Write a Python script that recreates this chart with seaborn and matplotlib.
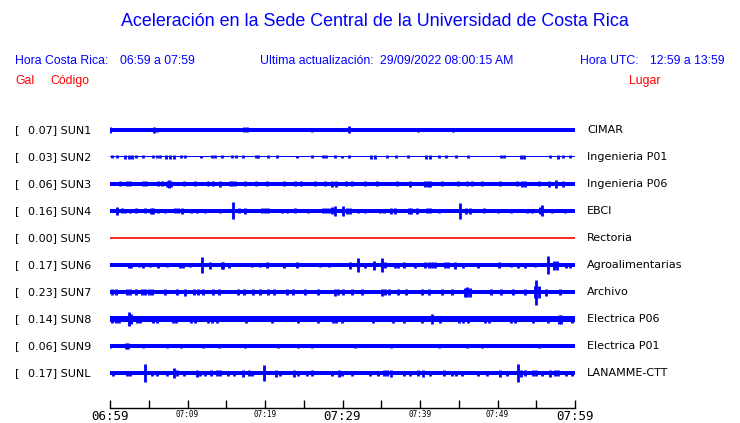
import matplotlib
matplotlib.use('Agg')
import matplotlib.pyplot as plt
import matplotlib.transforms as mtransforms
import numpy as np
import seaborn as sns

sns.set_style('white')

W, H = 740, 423

# station table
codes = ['SUN1', 'SUN2', 'SUN3', 'SUN4', 'SUN5', 'SUN6', 'SUN7', 'SUN8', 'SUN9', 'SUNL']
gal = [0.07, 0.03, 0.06, 0.16, 0.00, 0.17, 0.23, 0.14, 0.06, 0.17]
places = ['CIMAR', 'Ingenieria P01', 'Ingenieria P06', 'EBCI', 'Rectoria',
          'Agroalimentarias', 'Archivo', 'Electrica P06', 'Electrica P01',
          'LANAMME-CTT']
trace_colors = ['#0000ff'] * 4 + ['#ff0000'] + ['#0000ff'] * 5

# background noise half-amplitude of each trace (trace units)
noise = [1.6, 0.5, 1.8, 1.8, 0.0, 1.9, 2.1, 2.6, 1.6, 1.8]

# bursts: (minute after 06:59, half-amplitude)
bursts = {
    'SUN1': [(0.0, 2.7), (5.7, 2.7), (6.0, 2.2), (17.3, 2.5), (17.7, 2.5),
             (26.0, 2.3), (30.8, 3.5), (39.8, 2.0), (44.3, 2.0)],
    'SUN2': [(0.2, 1.5), (0.9, 1.5), (1.9, 2.0), (2.4, 2.0), (2.8, 2.0),
             (3.4, 1.5), (4.3, 1.5), (5.6, 1.5), (6.0, 1.5), (6.5, 1.5),
             (7.2, 1.7), (7.7, 1.7), (8.2, 1.7), (9.2, 1.5), (9.7, 1.5),
             (11.8, 1.3), (13.1, 1.5), (13.5, 1.5), (14.4, 1.5), (15.8, 1.5),
             (16.2, 1.5), (17.1, 1.5), (18.8, 1.5), (19.1, 1.5), (20.4, 1.5),
             (21.6, 1.5), (24.1, 1.3), (26.1, 1.5), (27.5, 1.5), (27.9, 1.5),
             (29.0, 1.5), (29.9, 1.3), (30.8, 1.5), (33.7, 1.7), (34.2, 1.7),
             (35.7, 1.5), (36.9, 1.5), (38.4, 1.5), (40.8, 1.9), (41.3, 1.9),
             (42.4, 1.5), (43.4, 1.5), (44.7, 1.5), (46.2, 1.5), (50.4, 1.5),
             (50.8, 1.5), (53.0, 1.9), (53.4, 1.9), (56.8, 1.5), (57.8, 1.7),
             (58.5, 1.5), (59.4, 1.5)],
    'SUN3': [(1.3, 2.5), (2.2, 2.5), (2.6, 2.5), (4.3, 2.5), (4.7, 2.5),
             (6.2, 2.5), (6.7, 2.5), (7.4, 3.2), (7.6, 3.7), (7.9, 3.2),
             (9.5, 2.5), (11.0, 2.5), (12.7, 2.5), (13.3, 2.5), (14.2, 2.8),
             (15.5, 2.5), (15.8, 2.5), (16.1, 2.5), (17.4, 2.5), (18.9, 2.5),
             (20.2, 2.5), (22.4, 2.5), (23.9, 2.5), (24.7, 2.5), (26.5, 2.5),
             (27.7, 2.5), (28.7, 3.0), (29.1, 3.0), (30.5, 2.5), (31.2, 2.5),
             (32.9, 2.5), (34.4, 2.5), (37.0, 2.5), (38.7, 2.8), (40.6, 3.0),
             (41.0, 3.0), (41.3, 2.8), (42.8, 2.5), (44.9, 2.5), (46.0, 2.5),
             (46.7, 2.5), (48.0, 2.5), (50.3, 2.5), (52.5, 2.5), (53.1, 3.0),
             (53.5, 3.0), (55.3, 2.5), (56.6, 2.8), (57.6, 3.7), (58.5, 2.8)],
    'SUN4': [(0.9, 3.8), (1.5, 2.5), (1.9, 2.3), (2.6, 2.3), (3.4, 2.5),
             (4.5, 2.5), (5.3, 3.3), (5.6, 3.3), (6.2, 2.3), (7.1, 2.3),
             (8.4, 2.5), (8.8, 2.5), (9.3, 3.3), (10.5, 2.3), (11.2, 2.3),
             (12.3, 2.3), (14.2, 2.0), (15.9, 8.5), (16.6, 2.5), (17.4, 3.0),
             (19.6, 2.5), (20.0, 2.5), (20.4, 2.5), (22.2, 2.3), (22.8, 2.3),
             (23.9, 2.5), (25.6, 2.3), (27.5, 2.5), (27.9, 2.5), (28.3, 2.5),
             (28.7, 3.5), (29.0, 5.0), (30.0, 5.3), (30.6, 3.0), (31.0, 3.0),
             (32.0, 2.3), (32.9, 2.3), (34.8, 2.3), (35.3, 2.3), (36.3, 2.8),
             (36.8, 2.8), (38.6, 2.8), (38.9, 2.8), (39.6, 3.0), (40.9, 2.5),
             (41.3, 2.5), (42.4, 2.3), (45.2, 8.0), (45.9, 3.0), (46.4, 3.0),
             (48.2, 2.5), (50.1, 2.3), (51.8, 2.3), (53.8, 2.3), (54.4, 2.3),
             (55.5, 3.5), (55.7, 5.5), (57.0, 2.3), (58.7, 2.3)],
    'SUN5': [],
    'SUN6': [(2.4, 2.5), (2.7, 2.5), (3.7, 2.3), (4.3, 2.5), (5.2, 2.3),
             (6.2, 2.5), (7.3, 2.3), (9.0, 2.5), (9.4, 2.5), (10.3, 2.3),
             (11.9, 7.8), (12.9, 3.5), (14.4, 3.5), (14.6, 3.5), (15.3, 2.5),
             (18.3, 2.3), (19.4, 2.3), (20.2, 3.0), (22.4, 2.5), (24.1, 3.0),
             (27.1, 2.3), (28.2, 2.3), (31.0, 3.5), (32.0, 6.8), (32.9, 2.5),
             (34.0, 4.5), (35.1, 7.0), (35.5, 2.8), (36.8, 2.5), (37.2, 2.5),
             (37.9, 3.0), (39.4, 2.5), (40.6, 3.0), (41.1, 3.0), (41.5, 3.0),
             (41.9, 3.0), (43.2, 3.0), (43.6, 3.0), (44.5, 3.5), (45.6, 2.5),
             (47.5, 2.5), (50.2, 3.0), (51.8, 2.3), (52.7, 2.5), (53.6, 2.5),
             (54.8, 2.3), (56.5, 9.3), (57.3, 4.5), (57.7, 4.5), (58.9, 2.5),
             (59.3, 2.5)],
    'SUN7': [(0.3, 2.8), (0.8, 2.8), (2.2, 2.8), (2.6, 2.8), (3.3, 2.8),
             (4.1, 3.0), (4.5, 3.0), (5.0, 2.8), (5.4, 2.8), (7.1, 2.8),
             (8.6, 2.8), (9.7, 3.5), (10.8, 2.8), (11.3, 2.8), (12.0, 2.8),
             (13.3, 2.8), (14.0, 2.8), (16.5, 2.8), (17.3, 2.8), (18.5, 2.8),
             (19.4, 2.8), (20.4, 2.8), (21.2, 2.8), (22.8, 2.8), (23.6, 2.8),
             (25.2, 2.8), (26.9, 2.8), (29.0, 3.5), (29.4, 3.0), (30.0, 2.8),
             (31.2, 2.8), (32.5, 2.8), (35.1, 3.5), (35.5, 3.0), (36.0, 2.8),
             (37.2, 2.8), (38.2, 2.8), (40.2, 2.8), (41.1, 2.8), (42.8, 2.8),
             (44.1, 2.8), (45.8, 4.5), (46.0, 5.3), (46.4, 4.5), (49.2, 2.8),
             (50.5, 2.8), (52.0, 2.8), (53.5, 2.8), (54.8, 6.0), (55.0, 12.5),
             (55.4, 6.0), (56.3, 3.5), (58.0, 2.8)],
    'SUN8': [(0.3, 3.5), (0.8, 3.5), (1.2, 3.5), (2.4, 6.7), (2.7, 5.0),
             (3.5, 3.5), (3.9, 3.5), (5.6, 3.5), (6.0, 3.5), (8.1, 3.5),
             (8.5, 3.5), (10.5, 3.5), (11.0, 3.5), (12.7, 3.5), (13.1, 3.5),
             (13.8, 3.5), (17.6, 3.5), (20.9, 3.5), (24.3, 3.5), (26.9, 3.5),
             (28.8, 3.5), (29.2, 3.5), (29.9, 3.5), (33.9, 3.5), (36.5, 3.5),
             (37.9, 3.5), (40.3, 3.5), (41.5, 5.0), (42.6, 3.5), (45.0, 3.5),
             (45.6, 3.5), (46.2, 3.5), (48.4, 3.5), (48.9, 3.5), (51.8, 3.5),
             (52.3, 3.5), (54.6, 3.5), (56.5, 3.5), (57.9, 4.5), (58.2, 4.5),
             (59.6, 3.5)],
    'SUN9': [(0.0, 1.8), (2.0, 2.7), (2.3, 2.7), (4.3, 1.8), (7.3, 2.3),
             (9.2, 1.8), (12.0, 1.8), (14.0, 1.8), (17.4, 1.8), (21.7, 1.8),
             (24.2, 1.8), (26.0, 1.8), (31.6, 1.8), (36.3, 1.8), (42.4, 1.8),
             (46.0, 1.8), (48.0, 1.8), (55.3, 1.8)],
    'SUNL': [(0.4, 2.5), (2.2, 2.5), (2.6, 2.5), (4.5, 8.7), (5.4, 2.5),
             (6.0, 2.5), (7.4, 2.5), (8.3, 5.0), (8.6, 3.0), (9.6, 2.5),
             (11.2, 3.5), (11.6, 2.5), (12.3, 2.5), (13.0, 3.0), (13.8, 2.8),
             (14.2, 2.8), (15.2, 2.5), (16.0, 2.5), (17.2, 3.5), (17.9, 3.0),
             (18.3, 2.5), (19.9, 8.3), (21.4, 3.5), (21.9, 2.5), (23.7, 3.5),
             (24.2, 2.5), (25.4, 2.5), (26.1, 3.0), (28.6, 2.5), (29.5, 3.5),
             (29.9, 2.5), (31.2, 2.5), (33.5, 2.5), (34.6, 2.5), (35.3, 2.8),
             (35.7, 2.8), (36.3, 3.5), (37.9, 2.5), (38.7, 2.5), (39.8, 3.0),
             (40.4, 3.5), (41.3, 2.5), (43.1, 3.0), (44.1, 2.5), (44.7, 2.5),
             (45.4, 2.5), (47.5, 2.5), (48.6, 2.5), (50.3, 3.5), (51.2, 2.5),
             (52.6, 8.7), (53.0, 3.5), (53.6, 2.8), (54.6, 3.0), (55.0, 3.0),
             (55.7, 2.5), (56.8, 3.5), (57.4, 3.0), (57.8, 3.0), (58.9, 2.5),
             (59.6, 2.5)],
}

# time axis (minutes after 06:59)
t_start, t_end = 0, 60
tick_minutes = list(range(0, 61, 5))
major_labels = {0: '06:59', 30: '07:29', 60: '07:59'}
minor_labels = {10: '07:09', 20: '07:19', 40: '07:39', 50: '07:49'}

blue = '#0000ff'
red = '#ff0000'
scale = 1 / 27.0  # trace units per row spacing

fig = plt.figure(figsize=(W / 100, H / 100), dpi=100)
ax = fig.add_axes([110 / W, 1 - 408 / H, 465 / W, 293 / H])

for i, code in enumerate(codes):
    c = trace_colors[i]
    ev = bursts[code]
    if not ev:
        # dead station: flat line
        sns.lineplot(x=[t_start, t_end], y=[i, i], color=c, lw=1.2, ax=ax)
        continue
    ax.fill_between([t_start, t_end], i - noise[i] * scale,
                    i + noise[i] * scale, color=c, lw=0)
    m = np.array([e[0] for e in ev])
    a = np.array([e[1] for e in ev]) * scale
    ax.vlines(m, i - a, i + a, color=c, lw=2.0)

ax.set_xlim(t_start, t_end)
ax.set_ylim((408 - 130) / 27, (115 - 130) / 27)
for s in ['top', 'left', 'right']:
    ax.spines[s].set_visible(False)
ax.spines['bottom'].set_color('black')
ax.spines['bottom'].set_linewidth(1.0)
ax.set_yticks([])
ax.set_xticks(tick_minutes)
ax.set_xticklabels([major_labels.get(m, minor_labels.get(m, '')) for m in tick_minutes])
ax.tick_params(axis='x', bottom=True, direction='in', length=6, width=1,
               color='black', labelcolor='black', pad=1.5)
for m, lab in zip(tick_minutes, ax.get_xticklabels()):
    lab.set_fontfamily('DejaVu Sans Mono')
    lab.set_fontsize(9 if m in major_labels else 5.5)
ax.set_facecolor('white')

# row labels
trans = mtransforms.blended_transform_factory(fig.transFigure, ax.transData)
for i, code in enumerate(codes):
    ax.text(15 / W, i, '[', transform=trans, va='center', ha='left',
            fontsize=8, family='DejaVu Sans', color='black')
    ax.text(28 / W, i, '{:.2f}] {}'.format(gal[i], code), transform=trans,
            va='center', ha='left', fontsize=8, family='DejaVu Sans', color='black')
    ax.text(587 / W, i, places[i], transform=trans, va='center', ha='left',
            fontsize=8, family='DejaVu Sans', color='black')

# header texts
hf = 'Liberation Sans'
fig.text(375 / W, 1 - 22 / H, 'Aceleración en la Sede Central de la Universidad de Costa Rica',
         ha='center', va='center', color=blue, fontsize=12.9, family=hf)
header = [(15, 'Hora Costa Rica:'), (120, '06:59 a 07:59'),
          (260, 'Ultima actualización:'), (380, '29/09/2022 08:00:15 AM'),
          (580, 'Hora UTC:'), (650, '12:59 a 13:59')]
for x, s in header:
    fig.text(x / W, 1 - 61 / H, s, ha='left', va='center', color=blue,
             fontsize=8.8, family=hf)
for x, s in [(15, 'Gal'), (50, 'Código'), (629, 'Lugar')]:
    fig.text(x / W, 1 - 81 / H, s, ha='left', va='center', color=red,
             fontsize=8.8, family=hf)

fig.savefig('out.png', dpi=100, facecolor='white')
